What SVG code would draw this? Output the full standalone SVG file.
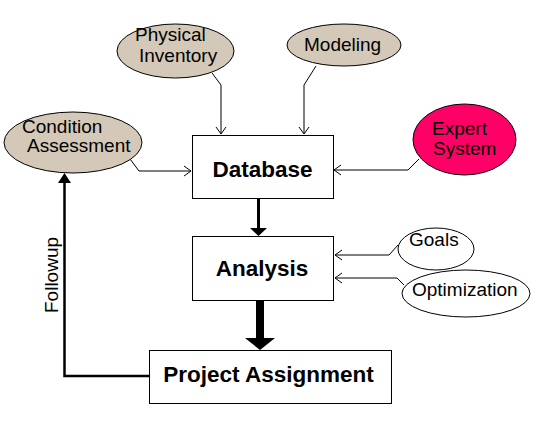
<svg xmlns="http://www.w3.org/2000/svg" width="540" height="426" viewBox="0 0 540 426">
<defs>
<style>
.box{fill:#fff;stroke:#000;stroke-width:1}
.ell{fill:#D4C8B8;stroke:#000;stroke-width:1}
.wht{fill:#fff;stroke:#000;stroke-width:1}
.exp{fill:#FF0066;stroke:#000;stroke-width:1}
.bt{font-family:"Liberation Sans",Arial,sans-serif;font-weight:bold;font-size:22.5px;fill:#000}
.et{font-family:"Liberation Sans",Arial,sans-serif;font-size:19px;fill:#000}
.thin{fill:none;stroke:#000;stroke-width:1}
.open{fill:none;stroke:#000;stroke-width:1}
</style>
</defs>
<rect width="540" height="426" fill="#fff"/>
<g id="connectors">
  <polyline class="thin" points="212,73 221,85 221,134"/>
  <polyline class="open" points="216,127 221,134 226,127"/>
  <polyline class="thin" points="316,66 304,85 304,134"/>
  <polyline class="open" points="299,127 304,134 309,127"/>
  <polyline class="thin" points="130,159 139,171 191,171"/>
  <polyline class="open" points="184,166 191,171 184,176"/>
  <polyline class="thin" points="419,159 408,170 334,170"/>
  <polyline class="open" points="341,165 334,170 341,175"/>
  <polyline class="thin" points="398,245 389,255 335,255"/>
  <polyline class="open" points="342,250 335,255 342,260"/>
  <polyline class="thin" points="404,285 397,278 335,278"/>
  <polyline class="open" points="342,273 335,278 342,283"/>
  <line x1="258.5" y1="198" x2="258.5" y2="229" stroke="#000" stroke-width="3"/>
  <polygon points="250,228 267,228 258.5,236" fill="#000"/>
  <line x1="260" y1="300" x2="260" y2="339" stroke="#000" stroke-width="8"/>
  <polygon points="245,338 275,338 260,350" fill="#000"/>
  <polyline fill="none" stroke="#000" stroke-width="2.5" points="149,376 64.5,376 64.5,181"/>
  <polygon points="58,183 71,183 64.5,173" fill="#000"/>
  <text class="et" transform="translate(58,313) rotate(-90)">Followup</text>
</g>
<g id="database">
  <rect class="box" x="192.5" y="135.5" width="141" height="63"/>
  <text class="bt" x="262.5" y="177" text-anchor="middle">Database</text>
</g>
<g id="analysis">
  <rect class="box" x="192.5" y="236.5" width="141" height="64"/>
  <text class="bt" x="262" y="276" text-anchor="middle">Analysis</text>
</g>
<g id="project-assignment">
  <rect class="box" x="149.5" y="350.5" width="242" height="53"/>
  <text class="bt" x="268.5" y="382" text-anchor="middle">Project Assignment</text>
</g>
<g id="physical-inventory">
  <ellipse class="ell" cx="175.5" cy="51" rx="58.5" ry="27"/>
  <text class="et" x="135" y="41">Physical</text>
  <text class="et" x="139" y="62">Inventory</text>
</g>
<g id="modeling">
  <ellipse class="ell" cx="344" cy="45" rx="57" ry="21"/>
  <text class="et" x="304" y="51">Modeling</text>
</g>
<g id="condition-assessment">
  <ellipse class="ell" cx="73" cy="142.5" rx="69" ry="30.5"/>
  <text class="et" x="22" y="133">Condition</text>
  <text class="et" x="27" y="152">Assessment</text>
</g>
<g id="expert-system">
  <ellipse class="exp" cx="464.5" cy="139.5" rx="51.5" ry="35.5"/>
  <text class="et" x="432" y="135">Expert</text>
  <text class="et" x="433" y="155">System</text>
</g>
<g id="goals">
  <ellipse class="wht" cx="436" cy="249" rx="38" ry="21"/>
  <text class="et" x="409" y="246">Goals</text>
</g>
<g id="optimization">
  <ellipse class="wht" cx="466" cy="293.5" rx="64" ry="23.5"/>
  <text class="et" x="412" y="296">Optimization</text>
</g>
</svg>
